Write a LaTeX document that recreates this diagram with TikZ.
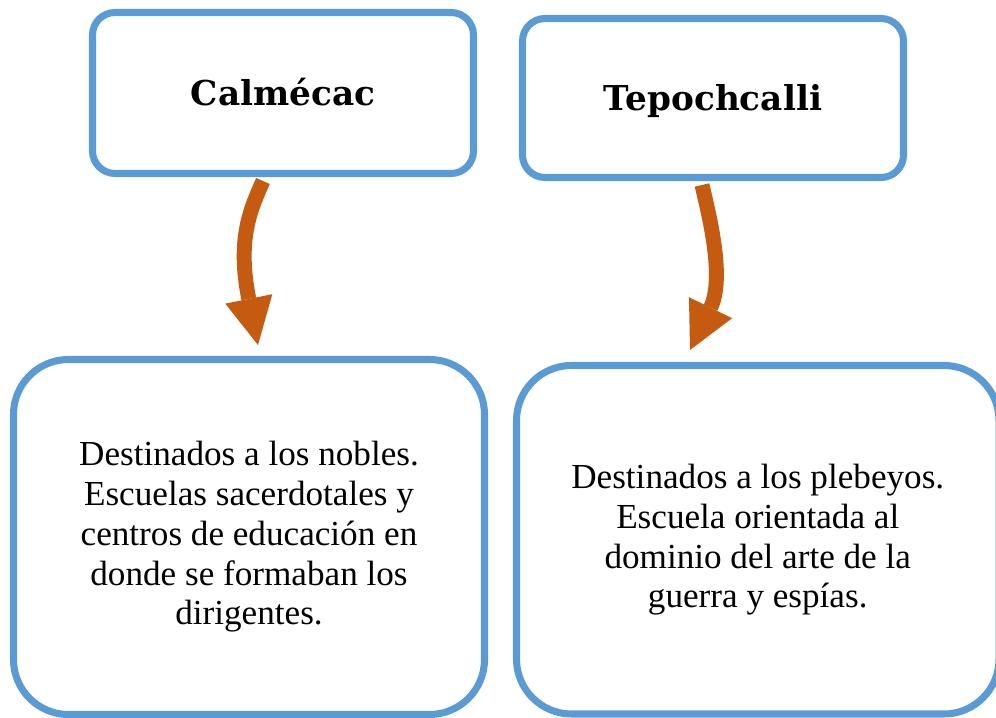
\documentclass[tikz,border=0pt]{standalone}
\usepackage{fontspec}
\setmainfont{Liberation Serif}
\newfontfamily\titlefont{DejaVu Serif}
\usetikzlibrary{arrows.meta,shapes}
\definecolor{boxblue}{HTML}{5B9BD5}
\definecolor{arroworange}{HTML}{C55A11}

\begin{document}
\begin{tikzpicture}[
	titlebox/.style={rectangle,draw=boxblue,line width=4pt,rounded corners=0.45cm,minimum width=7.62cm,text height=14.2pt,text depth=0pt,font=\titlefont\bfseries\fontsize{19.5}{23}\selectfont},
	textbox/.style={rectangle,draw=boxblue,line width=4pt,rounded corners=1.1cm,align=center,font=\fontsize{20}{22.6}\selectfont},
	curvearrow/.style={draw=arroworange,line width=8.5pt,-{Triangle[width=0.96cm,length=0.94cm,line width=0pt]}}]
		\useasboundingbox (0, 0) rectangle (19.92, -14.36);

		\node[titlebox,minimum height=3.22cm] (calmecac) at (5.66, -1.86) {Calmécac};
		\node[titlebox,minimum height=3.18cm] (tepochcalli) at (14.26, -1.96) {Tepochcalli};

		\node[textbox,minimum width=9.42cm,minimum height=7.1cm] (nobles) at (4.98, -10.74) {Destinados a los nobles.\\Escuelas sacerdotales y\\centros de educación en\\donde se formaban los\\dirigentes.};
		\node[textbox,minimum width=9.65cm,minimum height=6.97cm] (plebeyos) at (15.155, -10.795) {Destinados a los plebeyos.\\Escuela orientada al\\dominio del arte de la\\guerra y espías.};

		\draw[curvearrow] ([xshift=-0.4cm,yshift=-0.08cm]calmecac.south) .. controls (5.00, -4.20) and (4.74, -4.80) .. ([xshift=0.18cm,yshift=0.22cm]nobles.north);
		\draw[curvearrow] ([xshift=-0.22cm,yshift=-0.08cm]tepochcalli.south) .. controls (14.18, -4.30) and (14.50, -5.56) .. ([xshift=-1.355cm,yshift=0.24cm]plebeyos.north);
\end{tikzpicture}
\end{document}
